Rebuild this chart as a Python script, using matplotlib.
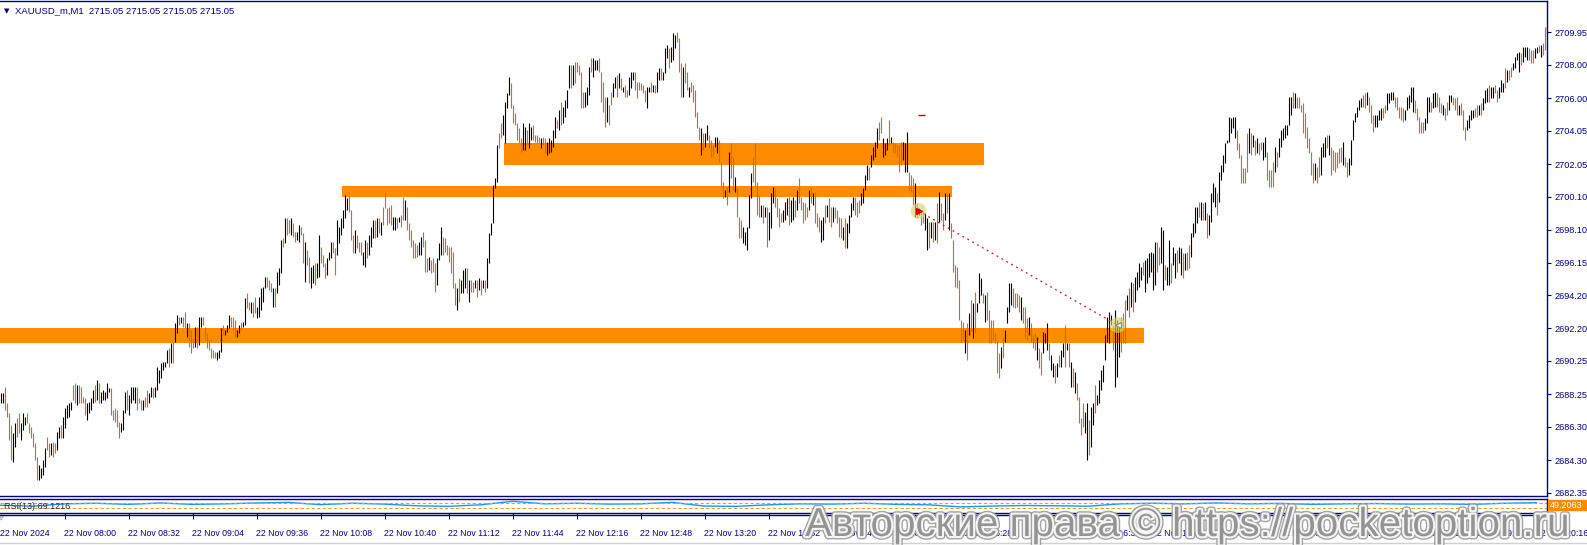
import matplotlib
matplotlib.use("Agg")
import matplotlib.pyplot as plt
import matplotlib.patheffects as pe
from matplotlib.patches import Rectangle, Polygon

# ---- values (one M1 bar per entry, starting 07:28) ----
bar_high = [
    2688.3, 2688.3, 2688.7, 2687.7, 2687.1, 2686.4, 2685.9, 2686.5, 2686.8, 2687.1,
    2686.5, 2687.1, 2686.9, 2687.1, 2686.5, 2686.3, 2685.9, 2685.3, 2684.5, 2684.0,
    2683.8, 2684.3, 2685.0, 2685.7, 2685.3, 2685.3, 2685.4, 2685.3, 2686.0, 2686.3,
    2686.4, 2686.9, 2687.4, 2687.6, 2687.7, 2687.8, 2688.8, 2688.9, 2688.8, 2688.8,
    2688.7, 2688.1, 2688.0, 2687.7, 2687.8, 2688.0, 2688.5, 2688.8, 2689.1, 2688.9,
    2688.4, 2688.5, 2688.4, 2688.9, 2688.6, 2688.6, 2687.3, 2687.4, 2687.3, 2686.6,
    2686.5, 2687.3, 2688.4, 2688.5, 2688.2, 2688.7, 2688.7, 2688.7, 2688.7, 2688.0,
    2687.9, 2687.9, 2688.1, 2688.5, 2688.3, 2688.7, 2688.6, 2688.7, 2689.9, 2689.7,
    2690.1, 2690.2, 2690.2, 2690.9, 2691.0, 2691.3, 2691.4, 2692.5, 2693.0, 2692.9,
    2692.9, 2692.9, 2693.2, 2692.5, 2692.5, 2692.1, 2691.6, 2692.3, 2692.3, 2692.9,
    2692.9, 2692.9, 2692.3, 2691.9, 2691.5, 2691.0, 2690.9, 2690.8, 2690.8, 2690.9,
    2692.2, 2692.4, 2692.1, 2692.4, 2693.0, 2692.9, 2692.9, 2692.7, 2692.1, 2692.4,
    2692.6, 2692.6, 2694.0, 2694.3, 2693.8, 2693.8, 2693.8, 2694.1, 2693.5, 2694.1,
    2694.6, 2694.7, 2695.3, 2695.3, 2695.1, 2694.9, 2694.6, 2694.6, 2695.6, 2695.8,
    2697.5, 2697.6, 2698.8, 2698.8, 2698.7, 2698.8, 2698.5, 2698.0, 2698.0, 2698.4,
    2698.3, 2697.9, 2697.4, 2696.9, 2696.5, 2695.9, 2696.0, 2696.1, 2696.1, 2697.8,
    2697.1, 2696.6, 2696.1, 2696.4, 2696.8, 2697.4, 2697.4, 2697.0, 2698.7, 2698.3,
    2698.8, 2699.3, 2700.2, 2700.0, 2700.2, 2699.3, 2697.8, 2698.1, 2697.8, 2697.4,
    2697.4, 2696.8, 2697.5, 2697.4, 2697.8, 2698.3, 2698.7, 2698.7, 2698.8, 2698.8,
    2698.6, 2699.5, 2700.3, 2699.4, 2699.5, 2699.6, 2698.9, 2698.9, 2698.8, 2698.9,
    2699.0, 2700.1, 2699.9, 2699.5, 2698.5, 2698.1, 2697.5, 2697.3, 2697.2, 2697.4,
    2697.7, 2698.0, 2697.5, 2696.4, 2696.5, 2696.3, 2696.4, 2696.1, 2696.4, 2697.3,
    2698.3, 2697.7, 2697.6, 2697.2, 2697.1, 2697.1, 2696.8, 2694.9, 2694.6, 2695.2,
    2695.1, 2695.7, 2695.8, 2695.8, 2695.1, 2695.1, 2695.0, 2695.1, 2695.1, 2695.2,
    2695.1, 2695.1, 2695.1, 2696.4, 2697.9, 2698.5, 2700.8, 2701.2, 2703.2, 2703.9,
    2704.5, 2705.0, 2705.8, 2706.3, 2707.3, 2706.9, 2705.6, 2705.1, 2704.5, 2704.2,
    2703.6, 2704.5, 2704.3, 2704.1, 2704.5, 2704.3, 2704.4, 2703.8, 2703.8, 2703.7,
    2703.6, 2703.7, 2703.6, 2703.4, 2703.6, 2703.5, 2704.1, 2704.9, 2704.7, 2705.3,
    2705.8, 2705.5, 2705.9, 2706.5, 2708.0, 2708.0, 2708.0, 2708.2, 2708.2, 2708.0,
    2707.6, 2706.4, 2706.4, 2706.7, 2707.9, 2708.4, 2708.4, 2708.3, 2708.3, 2708.4,
    2707.6, 2707.0, 2706.1, 2706.1, 2705.6, 2706.4, 2706.9, 2707.3, 2707.4, 2707.5,
    2707.2, 2706.7, 2706.8, 2706.5, 2707.3, 2707.6, 2707.6, 2707.6, 2707.0, 2707.0,
    2706.9, 2706.8, 2706.5, 2706.7, 2706.7, 2707.0, 2706.8, 2706.8, 2707.6, 2707.8,
    2707.8, 2707.6, 2709.0, 2709.2, 2709.0, 2709.1, 2709.9, 2709.8, 2710.0, 2709.6,
    2708.1, 2707.9, 2708.1, 2707.6, 2706.7, 2707.0, 2706.8, 2706.5, 2705.2, 2704.3,
    2704.2, 2703.9, 2703.9, 2704.4, 2703.8, 2703.5, 2703.2, 2703.7, 2703.7, 2703.5,
    2702.2, 2701.0, 2700.5, 2700.7, 2702.8, 2703.3, 2702.5, 2701.3, 2700.6, 2698.9,
    2698.7, 2698.3, 2698.0, 2698.3, 2700.2, 2701.5, 2702.5, 2703.3, 2701.0, 2700.2,
    2699.6, 2699.6, 2699.5, 2699.5, 2699.2, 2700.3, 2700.7, 2700.6, 2700.0, 2699.4,
    2699.1, 2699.3, 2699.8, 2700.0, 2700.1, 2699.9, 2700.1, 2699.9, 2700.5, 2701.2,
    2700.1, 2699.8, 2699.7, 2699.5, 2700.5, 2700.7, 2700.3, 2700.3, 2699.1, 2698.9,
    2698.7, 2698.9, 2699.6, 2699.6, 2700.0, 2699.5, 2699.5, 2699.5, 2699.3, 2698.9,
    2698.8, 2698.3, 2698.8, 2698.5, 2699.0, 2699.7, 2700.1, 2700.1, 2699.8, 2699.9,
    2700.3, 2700.6, 2701.4, 2702.0, 2701.9, 2702.6, 2703.1, 2703.4, 2704.2, 2704.6,
    2704.9, 2703.6, 2703.3, 2703.6, 2704.7, 2703.7, 2703.4, 2703.3, 2703.2, 2703.2,
    2703.4, 2703.4, 2703.3, 2704.0, 2701.6, 2701.4, 2701.2, 2700.9, 2699.7, 2699.4,
    2699.1, 2699.2, 2699.1, 2698.8, 2698.6, 2698.6, 2698.6, 2698.6, 2699.7, 2700.4,
    2699.7, 2699.1, 2700.3, 2700.3, 2700.3, 2698.5, 2697.5, 2696.0, 2695.9, 2695.1,
    2692.7, 2692.6, 2692.1, 2692.5, 2693.1, 2693.9, 2693.7, 2694.4, 2693.7, 2695.5,
    2695.2, 2694.3, 2694.2, 2694.4, 2693.3, 2692.7, 2692.7, 2691.9, 2691.5, 2690.7,
    2691.1, 2691.7, 2692.1, 2693.5, 2694.9, 2694.9, 2694.6, 2694.3, 2694.3, 2694.2,
    2694.1, 2693.5, 2693.5, 2692.8, 2692.9, 2692.5, 2691.8, 2691.9, 2691.7, 2691.0,
    2690.8, 2692.0, 2691.9, 2692.5, 2691.3, 2690.6, 2690.1, 2690.0, 2690.1, 2690.6,
    2690.9, 2691.3, 2692.4, 2691.3, 2691.3, 2690.2, 2689.8, 2689.6, 2688.9, 2688.1,
    2686.8, 2687.7, 2687.2, 2687.7, 2686.7, 2687.5, 2687.7, 2688.8, 2688.2, 2689.1,
    2689.7, 2690.0, 2691.8, 2692.9, 2693.2, 2693.0, 2692.4, 2693.3, 2692.7, 2692.5,
    2692.9, 2693.1, 2693.9, 2694.2, 2694.6, 2695.0, 2694.9, 2695.3, 2695.6, 2696.1,
    2695.9, 2696.2, 2696.3, 2696.4, 2696.7, 2696.8, 2696.7, 2697.4, 2697.4, 2697.1,
    2698.3, 2698.1, 2696.0, 2695.9, 2697.5, 2696.1, 2697.1, 2696.7, 2696.9, 2697.1,
    2697.0, 2696.7, 2696.7, 2696.8, 2697.2, 2697.9, 2698.5, 2699.5, 2699.5, 2699.8,
    2699.8, 2699.7, 2699.8, 2699.1, 2699.0, 2700.3, 2700.9, 2700.7, 2700.3, 2701.6,
    2702.0, 2702.6, 2703.3, 2703.5, 2704.9, 2704.8, 2704.9, 2704.9, 2704.1, 2703.3,
    2702.6, 2701.8, 2701.8, 2703.9, 2704.2, 2703.9, 2703.8, 2703.5, 2703.6, 2703.3,
    2703.4, 2703.4, 2703.7, 2702.8, 2701.7, 2701.7, 2702.2, 2703.1, 2702.8, 2703.6,
    2704.1, 2704.2, 2704.4, 2704.4, 2706.1, 2706.1, 2706.4, 2706.3, 2706.1, 2706.1,
    2705.6, 2705.7, 2705.1, 2704.3, 2703.6, 2702.8, 2702.1, 2702.1, 2701.9, 2702.5,
    2703.1, 2703.3, 2703.7, 2703.8, 2703.8, 2703.1, 2702.9, 2702.8, 2702.8, 2703.0,
    2703.1, 2703.4, 2702.5, 2702.2, 2702.4, 2703.5, 2704.7, 2705.1, 2705.5, 2705.9,
    2706.0, 2706.2, 2706.3, 2706.4, 2706.1, 2705.6, 2705.0, 2705.0, 2705.0, 2705.3,
    2705.4, 2705.4, 2705.6, 2706.3, 2706.3, 2706.4, 2706.4, 2706.1, 2706.1, 2705.5,
    2705.5, 2705.4, 2705.3, 2706.1, 2706.2, 2706.7, 2706.7, 2705.9, 2705.4, 2704.9,
    2704.6, 2704.6, 2704.8, 2706.1, 2706.1, 2705.8, 2706.3, 2706.4, 2706.3, 2706.1,
    2705.7, 2705.6, 2705.4, 2705.8, 2706.2, 2706.2, 2706.1, 2706.0, 2706.1, 2705.6,
    2705.7, 2705.3, 2704.3, 2704.7, 2705.0, 2705.3, 2705.3, 2705.4, 2705.6, 2705.6,
    2705.7, 2706.0, 2706.5, 2706.6, 2706.8, 2706.7, 2706.7, 2706.8, 2706.5, 2706.7,
    2707.1, 2706.9, 2707.8, 2707.7, 2707.7, 2707.9, 2708.1, 2708.5, 2708.7, 2708.8,
    2708.7, 2709.1, 2709.1, 2709.1, 2709.0, 2708.9, 2708.9, 2709.0, 2709.1, 2709.2,
    2709.2, 2709.3, 2710.3, 2710.3,
]
bar_low = [
    2687.7, 2687.7, 2687.3, 2686.9, 2685.5, 2684.3, 2684.2, 2685.1, 2685.7, 2685.9,
    2685.5, 2686.1, 2686.4, 2686.5, 2685.9, 2685.6, 2685.1, 2684.3, 2683.1, 2683.1,
    2683.2, 2683.4, 2683.9, 2684.9, 2684.5, 2684.6, 2684.5, 2684.7, 2684.9, 2685.6,
    2685.6, 2685.6, 2686.2, 2686.8, 2686.9, 2687.3, 2687.9, 2687.7, 2687.6, 2687.7,
    2687.7, 2687.7, 2687.0, 2686.7, 2687.1, 2687.3, 2687.7, 2687.8, 2687.9, 2687.7,
    2687.7, 2687.9, 2687.9, 2688.0, 2688.4, 2687.0, 2686.7, 2686.6, 2686.3, 2685.6,
    2686.0, 2686.1, 2687.1, 2687.3, 2687.0, 2687.7, 2687.9, 2687.7, 2687.3, 2687.7,
    2687.3, 2687.3, 2687.5, 2687.5, 2687.7, 2688.1, 2688.0, 2688.1, 2688.5, 2688.9,
    2689.2, 2689.7, 2689.9, 2690.1, 2689.9, 2690.1, 2690.1, 2691.4, 2691.9, 2692.4,
    2692.5, 2692.3, 2692.2, 2691.7, 2691.1, 2690.7, 2691.0, 2691.1, 2691.0, 2691.2,
    2692.3, 2692.4, 2691.5, 2691.0, 2690.9, 2690.4, 2690.4, 2690.4, 2690.3, 2690.4,
    2690.8, 2691.8, 2691.8, 2692.0, 2692.2, 2692.3, 2692.1, 2691.6, 2691.7, 2691.9,
    2692.1, 2692.3, 2692.4, 2693.4, 2693.3, 2693.1, 2692.9, 2693.1, 2692.8, 2692.9,
    2693.3, 2693.8, 2694.6, 2694.7, 2694.5, 2694.4, 2693.5, 2693.5, 2694.3, 2694.8,
    2695.5, 2697.1, 2697.3, 2697.8, 2697.9, 2697.8, 2697.7, 2697.4, 2697.5, 2697.4,
    2697.8, 2696.1, 2695.0, 2696.0, 2694.9, 2694.6, 2694.9, 2694.8, 2695.2, 2695.3,
    2696.1, 2695.9, 2695.2, 2695.4, 2696.3, 2696.4, 2696.7, 2695.4, 2696.6, 2697.3,
    2697.8, 2698.2, 2698.8, 2699.3, 2699.2, 2697.5, 2696.7, 2696.7, 2697.0, 2696.8,
    2696.6, 2696.0, 2695.9, 2696.4, 2696.6, 2697.1, 2697.6, 2697.6, 2697.7, 2697.9,
    2697.8, 2698.4, 2699.4, 2698.4, 2698.5, 2698.4, 2698.1, 2698.1, 2698.2, 2698.6,
    2698.3, 2698.7, 2698.7, 2698.1, 2697.5, 2697.1, 2696.4, 2696.4, 2696.5, 2696.6,
    2696.6, 2697.1, 2695.6, 2695.6, 2695.7, 2695.5, 2695.6, 2694.4, 2694.8, 2696.3,
    2696.6, 2696.6, 2696.8, 2696.6, 2696.2, 2695.5, 2694.6, 2693.6, 2693.3, 2693.8,
    2694.3, 2694.3, 2694.6, 2694.3, 2693.8, 2694.4, 2694.4, 2694.6, 2694.1, 2694.5,
    2694.2, 2694.6, 2694.4, 2694.6, 2696.1, 2697.8, 2698.5, 2700.6, 2701.0, 2703.0,
    2703.6, 2703.8, 2703.3, 2705.4, 2706.2, 2705.4, 2704.5, 2704.4, 2703.5, 2703.3,
    2702.8, 2702.9, 2702.9, 2703.2, 2703.0, 2703.5, 2703.5, 2703.4, 2703.3, 2703.3,
    2703.0, 2703.2, 2702.7, 2702.6, 2702.7, 2702.8, 2703.1, 2703.6, 2704.2, 2704.1,
    2704.4, 2704.5, 2704.9, 2705.4, 2706.6, 2706.6, 2706.8, 2706.9, 2707.6, 2707.4,
    2705.4, 2705.4, 2705.5, 2705.6, 2706.2, 2707.6, 2707.3, 2707.7, 2707.7, 2707.6,
    2705.8, 2705.2, 2704.3, 2704.6, 2704.4, 2705.6, 2706.1, 2706.6, 2706.1, 2706.6,
    2706.5, 2706.4, 2706.1, 2706.1, 2706.2, 2706.6, 2707.1, 2706.5, 2706.0, 2706.5,
    2706.5, 2706.3, 2705.8, 2705.4, 2706.4, 2706.4, 2706.4, 2706.3, 2706.4, 2707.1,
    2707.1, 2707.1, 2707.5, 2708.4, 2707.8, 2708.2, 2708.3, 2709.0, 2709.4, 2707.6,
    2706.1, 2706.1, 2706.9, 2706.5, 2706.1, 2706.4, 2705.8, 2704.9, 2704.2, 2703.5,
    2702.6, 2702.9, 2703.1, 2703.5, 2703.0, 2702.5, 2702.5, 2703.1, 2702.7, 2702.2,
    2700.7, 2700.0, 2700.1, 2699.6, 2700.4, 2701.2, 2700.5, 2700.4, 2698.9, 2697.6,
    2697.6, 2697.3, 2697.2, 2696.9, 2698.2, 2700.0, 2701.0, 2700.7, 2699.0, 2698.9,
    2698.9, 2698.5, 2698.9, 2697.1, 2697.5, 2698.2, 2699.7, 2699.5, 2698.9, 2698.3,
    2698.6, 2698.6, 2698.7, 2699.0, 2698.4, 2698.6, 2698.7, 2698.9, 2699.3, 2699.7,
    2699.3, 2698.5, 2698.7, 2698.9, 2699.3, 2699.7, 2699.6, 2698.5, 2698.3, 2698.0,
    2697.4, 2697.5, 2698.5, 2698.9, 2698.6, 2698.3, 2698.6, 2698.8, 2698.5, 2697.7,
    2697.6, 2697.5, 2697.0, 2697.0, 2697.9, 2698.9, 2699.3, 2699.0, 2698.9, 2699.1,
    2699.6, 2699.7, 2700.5, 2701.1, 2701.1, 2701.9, 2702.3, 2702.5, 2703.0, 2703.5,
    2703.9, 2702.5, 2702.6, 2702.9, 2703.2, 2703.3, 2702.7, 2702.7, 2702.5, 2701.6,
    2702.0, 2702.3, 2701.6, 2701.6, 2700.5, 2700.4, 2699.6, 2698.9, 2698.8, 2699.0,
    2698.4, 2698.5, 2698.1, 2696.9, 2697.0, 2697.6, 2697.4, 2697.5, 2697.3, 2698.6,
    2698.7, 2698.1, 2698.7, 2699.1, 2698.1, 2697.6, 2695.6, 2694.7, 2694.6, 2692.7,
    2691.4, 2691.5, 2690.7, 2690.3, 2691.8, 2692.0, 2691.6, 2692.0, 2693.2, 2693.7,
    2694.2, 2693.7, 2692.6, 2692.7, 2691.3, 2691.3, 2691.5, 2691.3, 2689.5, 2689.2,
    2689.8, 2690.4, 2691.4, 2692.5, 2693.2, 2693.6, 2693.5, 2693.4, 2693.5, 2693.2,
    2692.7, 2692.5, 2691.6, 2691.5, 2691.8, 2691.4, 2691.0, 2690.9, 2690.3, 2689.8,
    2689.4, 2690.7, 2691.3, 2690.9, 2690.3, 2689.7, 2689.3, 2688.9, 2689.3, 2689.9,
    2689.9, 2690.5, 2689.9, 2690.9, 2689.9, 2688.7, 2688.7, 2688.3, 2687.9, 2686.5,
    2685.8, 2686.3, 2685.9, 2684.3, 2684.6, 2685.1, 2686.4, 2687.1, 2687.6, 2687.7,
    2688.5, 2689.0, 2690.3, 2691.4, 2691.3, 2692.4, 2690.9, 2688.7, 2689.3, 2690.5,
    2690.8, 2691.3, 2691.3, 2693.3, 2692.9, 2693.5, 2693.2, 2693.8, 2694.5, 2694.7,
    2695.1, 2695.4, 2694.4, 2694.9, 2695.3, 2695.6, 2694.5, 2694.8, 2695.6, 2696.0,
    2696.1, 2694.5, 2695.1, 2694.8, 2694.8, 2694.9, 2696.0, 2695.2, 2695.6, 2696.1,
    2695.4, 2695.2, 2695.7, 2695.7, 2695.8, 2696.5, 2697.7, 2697.9, 2698.5, 2698.9,
    2698.7, 2698.7, 2698.7, 2697.6, 2697.8, 2698.6, 2699.8, 2699.5, 2699.0, 2699.8,
    2701.1, 2701.6, 2702.1, 2703.3, 2703.4, 2703.9, 2704.2, 2703.6, 2702.9, 2702.4,
    2700.9, 2700.9, 2700.9, 2701.6, 2702.7, 2702.6, 2703.1, 2702.6, 2702.7, 2702.6,
    2702.9, 2702.3, 2702.5, 2701.1, 2700.7, 2700.7, 2700.7, 2701.6, 2701.9, 2702.5,
    2703.1, 2703.5, 2703.6, 2703.8, 2704.4, 2705.0, 2705.4, 2705.4, 2705.4, 2705.4,
    2705.2, 2703.9, 2703.6, 2703.0, 2702.7, 2701.4, 2700.9, 2701.1, 2700.9, 2701.3,
    2701.4, 2702.5, 2702.5, 2703.0, 2702.6, 2701.4, 2701.7, 2701.6, 2701.8, 2702.1,
    2702.2, 2702.0, 2701.9, 2701.3, 2701.4, 2702.0, 2703.5, 2704.6, 2704.9, 2705.3,
    2705.5, 2705.5, 2705.4, 2705.6, 2705.2, 2704.5, 2704.0, 2704.3, 2704.3, 2704.7,
    2704.7, 2704.8, 2705.1, 2705.3, 2705.7, 2705.9, 2705.9, 2705.5, 2705.3, 2704.8,
    2704.7, 2704.6, 2704.7, 2705.3, 2705.4, 2705.8, 2705.2, 2705.1, 2704.7, 2703.9,
    2703.9, 2703.9, 2704.1, 2704.5, 2705.2, 2705.2, 2705.4, 2705.5, 2705.5, 2705.2,
    2705.1, 2705.0, 2704.7, 2705.0, 2705.3, 2705.8, 2705.6, 2705.3, 2705.0, 2705.0,
    2705.0, 2704.1, 2703.5, 2704.1, 2704.2, 2704.7, 2704.8, 2704.9, 2704.9, 2705.0,
    2705.0, 2705.3, 2705.7, 2705.8, 2705.8, 2706.0, 2706.0, 2706.3, 2705.8, 2706.0,
    2706.4, 2706.4, 2706.6, 2707.0, 2707.1, 2707.3, 2707.7, 2707.8, 2708.3, 2707.6,
    2708.0, 2708.2, 2708.5, 2708.3, 2708.3, 2708.1, 2708.1, 2708.4, 2708.7, 2708.8,
    2708.5, 2708.6, 2708.9, 2709.7,
]
# u = up bar (black), d = down bar (orange), groups of ten
bar_dir = (
    "uudddduudd uuuddddddu uuuddudduu duuuuuddud ddduuuudud "
    "uuuuuddddd uuuduuuudd dudduuduuu uuuududuud uddudddudu "
    "uddddddduu uduuuddduu duuddudduu uuuddduduu ududdudduu "
    "ddudduuduu ddduuudduu uuuudddudd duuduuudud uddddduudu "
    "dduddddddu uddduddduu udddddddud uuududdudu duduuuuuud "
    "duuuuddddd duuduudddd udduuuuudu duuuududdd dduuuduuud "
    "dddudduudu dudduuuddd ddduududuu duuuduuudd dudduddddd "
    "uduuddduud ddududdudd duuuuudddd ududuuuddd duuuduudud "
    "ddddududdd uududduddd duduuuuddd uuuuduuuud duuududdddd "
    "uuudddudud duudududud dududddddd dudududuuu dudddddddu "
    "duuuuddddu dddudddudd uuuduududu ududududdd duuduuduuu "
    "uuuuuduuud ddududuuuu duuuuuuddu uduuduuduu dudduuuudu "
    "duduuuuduu uuuuuuuddd dddudududd uudddduduu uuuuududdd "
    "dddddduddu uududddddd udduuuuuuu dduddduuuu dduuuudddd "
    "duuuuudddd duuuduuddd udduudddud dduuuuddud uuuduudduu "
    "ududduuuud uuuddduudu dduu"
).replace(" ", "")

price_ticks = [2682.35, 2684.30, 2686.30, 2688.25, 2690.25, 2692.20, 2694.20, 2696.15,
               2698.10, 2700.10, 2702.05, 2704.05, 2706.00, 2708.00, 2709.95]
time_labels = ["22 Nov 2024", "22 Nov 08:00", "22 Nov 08:32", "22 Nov 09:04", "22 Nov 09:36",
               "22 Nov 10:08", "22 Nov 10:40", "22 Nov 11:12", "22 Nov 11:44", "22 Nov 12:16",
               "22 Nov 12:48", "22 Nov 13:20", "22 Nov 13:52", "22 Nov 14:24", "22 Nov 14:56",
               "22 Nov 15:28", "22 Nov 16:00", "22 Nov 16:32", "22 Nov 17:04", "22 Nov 17:36",
               "22 Nov 18:08", "22 Nov 18:40", "22 Nov 19:12", "22 Nov 19:44", "22 Nov 20:16"]
time_label_bars = list(range(0, 32 * len(time_labels), 32))

# support / resistance zones (bar index from-to, price low-high)
zone_start = [-0.25, 170.75, 251.75]
zone_end = [571.75, 475.6, 491.75]
zone_low = [2691.33, 2700.09, 2702.02]
zone_high = [2692.21, 2700.74, 2703.34]

trend_x = [459.0, 558.5]
trend_y = [2699.24, 2692.40]

rsi_bars = list(range(0, 769, 16))
rsi_vals = [52, 45, 62, 66, 58, 68, 58, 62, 68, 72, 56, 66, 60, 48, 44, 55, 80, 62, 66, 60,
            62, 72, 46, 44, 55, 62, 60, 66, 58, 55, 40, 46, 50, 48, 45, 62, 66, 62, 68, 62,
            65, 58, 62, 64, 60, 62, 58, 66, 70]

W, H = 1587, 545
NAVY = "#000080"
UP_C, DN_C = "#000000", "#D2691E"
ZONE_C = "#FF8C00"
plt.rcParams["font.family"] = ["Liberation Sans", "DejaVu Sans"]

fig = plt.figure(figsize=(W / 100, H / 100), dpi=100)

def box(left, top, right, bottom):
    return [left / W, 1 - bottom / H, (right - left) / W, (bottom - top) / H]

ax = fig.add_axes(box(0, 1, 1546.5, 496))
n = min(len(bar_high), len(bar_low), len(bar_dir))
xs = list(range(n))
cols = [UP_C if c == "u" else DN_C for c in bar_dir[:n]]

for x0, x1, lo, hi in zip(zone_start, zone_end, zone_low, zone_high):
    ax.fill_between([x0, x1], lo, hi, color=ZONE_C, lw=0, zorder=1)

ax.vlines(xs, bar_low[:n], bar_high[:n], colors=cols, lw=0.8, zorder=3)

ax.plot(trend_x, trend_y, color="#B22222", lw=0.9, linestyle=(0, (1.5, 3)), zorder=4)
ax.scatter(trend_x, trend_y, s=130, color="#D8D870", alpha=0.65, edgecolors="none", zorder=5)
ax.plot(trend_x[0], trend_y[0], marker=">", color="#E00000", ms=4, zorder=6)
ax.plot(trend_x[1], trend_y[1], marker="<", color="white", mec="#909090", ms=5, zorder=6)
ax.hlines(2704.99, 458.5, 462, color="#C00000", lw=1.0, zorder=4)

ax.set_xlim(-0.25, 773)
ax.set_ylim(2682.15, 2711.83)
ax.yaxis.tick_right()
ax.set_yticks(price_ticks)
ax.set_yticklabels([f"{v:.2f}" for v in price_ticks])
ax.tick_params(axis="y", length=3, width=0.8, color=NAVY, labelcolor=NAVY,
               labelsize=6.6, pad=3)
ax.set_xticks([])
ax.spines["left"].set_visible(False)
for s in ["top", "right", "bottom"]:
    ax.spines[s].set_color(NAVY)
    ax.spines[s].set_linewidth(1.0)

# RSI sub window
rax = fig.add_axes(box(0, 498.5, 1546.5, 512.5))
rax.plot(rsi_bars, rsi_vals, color="#1E90FF", lw=1.0)
rax.axhline(70, color="#DAA520", lw=0.8, ls=(0, (3, 2)))
rax.axhline(30, color="#DAA520", lw=0.8, ls=(0, (3, 2)))
rax.set_xlim(-0.25, 773)
rax.set_ylim(0, 100)
rax.set_yticks([])
rax.spines["left"].set_visible(False)
for s in ["top", "right", "bottom"]:
    rax.spines[s].set_color(NAVY)
    rax.spines[s].set_linewidth(1.0)
rax.set_xticks(time_label_bars)
rax.set_xticklabels(time_labels, ha="left")
rax.tick_params(axis="x", length=4, width=0.8, color=NAVY, labelcolor=NAVY,
                labelsize=6.3, pad=8)
rax.text(4 / 1546.5, 0.4, "RSI(13) 69.1216", transform=rax.transAxes, fontsize=6.5,
         color="#303030", va="center")

fig.add_artist(plt.Line2D([0, 1546.5 / W], [1 - 514.5 / H] * 2, color=NAVY, lw=1.0))
fig.add_artist(plt.Line2D([0, 1], [1 - 543 / H] * 2, color="#D0D0D0", lw=1.0))
fig.add_artist(Polygon([[0, 1 - 515 / H], [5 / W, 1 - 515 / H], [0, 1 - 520 / H]],
                       closed=True, color="#C8C8C8", transform=fig.transFigure))

# RSI value tag
fig.add_artist(Rectangle((1548 / W, 1 - 510 / H), 39 / W, 10 / H, color="#FF8C00",
                         transform=fig.transFigure))
fig.text(1550 / W, 1 - 505 / H, "49.2063", color="white", fontsize=6.5, va="center")

# header
fig.text(4 / W, 1 - 11 / H, "\u25bc", color=NAVY, fontsize=5, va="center",
         family=["DejaVu Sans"])
fig.text(15 / W, 1 - 11 / H, "XAUUSD_m,M1  2715.05 2715.05 2715.05 2715.05", color=NAVY,
         fontsize=6.8, va="center")

# watermark
wm = fig.text(805 / W, 1 - 536 / H, "Авторские права © https://pocketoption.ru",
              color="#8A8A8A", fontsize=30, va="baseline", ha="left", alpha=0.9,
              path_effects=[pe.Stroke(linewidth=5, foreground="#9A9A9A", alpha=0.9),
                            pe.Stroke(linewidth=3, foreground="white", alpha=0.9),
                            pe.Normal()])
fig.canvas.draw()
bb = wm.get_window_extent()
wm.set_fontsize(30 * 763 / bb.width)

fig.savefig("out.png", dpi=100)
